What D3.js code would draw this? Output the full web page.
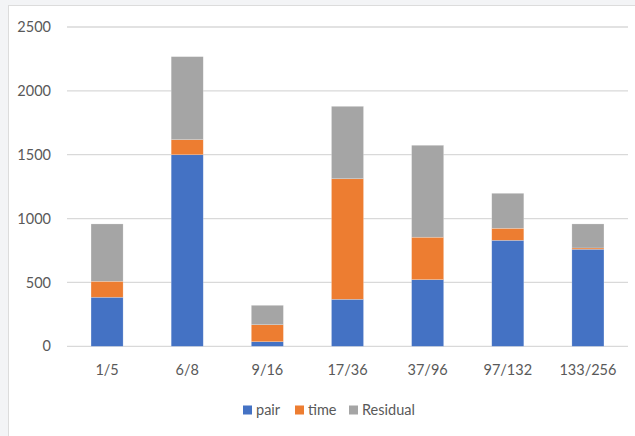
<!DOCTYPE html>
<html>
<head>
<meta charset="utf-8">
<script src="https://cdn.jsdelivr.net/npm/d3@7"></script>
<style>
  html, body { margin: 0; padding: 0; background: #f3f4f6; }
  svg { display: block; }
  text { font-family: Lato, "Open Sans", sans-serif; fill: #595959; }
</style>
</head>
<body>
<svg id="chart" width="635" height="436"></svg>
<script>
// Data
const categories = ["1/5", "6/8", "9/16", "17/36", "37/96", "97/132", "133/256"];
const pair     = [384, 1500, 36, 368, 522, 830, 760];
const time     = [125, 118, 133, 944, 332, 94, 10];
const residual = [449, 650, 152, 567, 720, 274, 188];
const seriesNames = ["pair", "time", "Residual"];
const colors = ["#4472c4", "#ed7d31", "#a5a5a5"];
const yTicks = [0, 500, 1000, 1500, 2000, 2500];

const svg = d3.select("#chart");
const W = 635, H = 436;
const FONT = "14.5px";

// chart area background with light frame
svg.append("rect").attr("x", 0).attr("y", 0).attr("width", W).attr("height", H).attr("fill", "#f3f4f6");
svg.append("rect").attr("x", 8.5).attr("y", 5.5).attr("width", W).attr("height", H)
  .attr("fill", "#ffffff").attr("stroke", "#dcdcdc").attr("stroke-width", 1);

const x = d3.scaleBand().domain(categories).range([67, 628]).paddingInner(0.6).paddingOuter(0.3);
const y = d3.scaleLinear().domain([0, 2500]).range([346.3, 27]);

// gridlines
svg.append("g").selectAll("line").data(yTicks).join("line")
  .attr("x1", 67).attr("x2", 628)
  .attr("y1", d => y(d)).attr("y2", d => y(d))
  .attr("stroke", "#d9d9d9").attr("stroke-width", 1.3);

// y axis labels
const yAxis = d3.axisLeft(y).tickValues(yTicks).tickFormat(d3.format("d")).tickSize(0).tickPadding(0);
const gy = svg.append("g").attr("transform", "translate(51,0)").call(yAxis);
gy.select(".domain").remove();
gy.selectAll("text").style("font-size", FONT).attr("fill", "#595959")
  .style("font-family", "Lato, 'Open Sans', sans-serif");

// stacked bars
const table = categories.map((c, i) => ({ cat: c, pair: pair[i], time: time[i], Residual: residual[i] }));
const stack = d3.stack().keys(seriesNames)(table);

svg.append("g").selectAll("g").data(stack).join("g")
  .attr("fill", (d, i) => colors[i])
  .selectAll("rect").data(d => d).join("rect")
  .attr("x", d => x(d.data.cat))
  .attr("width", x.bandwidth())
  .attr("y", d => y(d[1]))
  .attr("height", d => y(d[0]) - y(d[1]))
  .attr("stroke", "#ffffff").attr("stroke-opacity", 0.35).attr("stroke-width", 0.6);

// x axis labels
const xAxis = d3.axisBottom(x).tickSize(0).tickPadding(0);
const gx = svg.append("g").attr("transform", "translate(0,370)").call(xAxis);
gx.select(".domain").remove();
gx.selectAll("text").style("font-size", FONT).attr("fill", "#595959")
  .attr("y", 0).attr("dy", "0.35em")
  .style("font-family", "Lato, 'Open Sans', sans-serif");

// legend
const legendX = [243, 295, 349];
const lg = svg.append("g").selectAll("g").data(seriesNames).join("g")
  .attr("transform", (d, i) => `translate(${legendX[i]},410)`);
lg.append("rect").attr("x", 0).attr("y", -4.5).attr("width", 9).attr("height", 9)
  .attr("fill", (d, i) => colors[i]);
lg.append("text").attr("x", 13).attr("y", 0).attr("dy", "0.35em")
  .style("font-size", FONT).text(d => d);
</script>
</body>
</html>
